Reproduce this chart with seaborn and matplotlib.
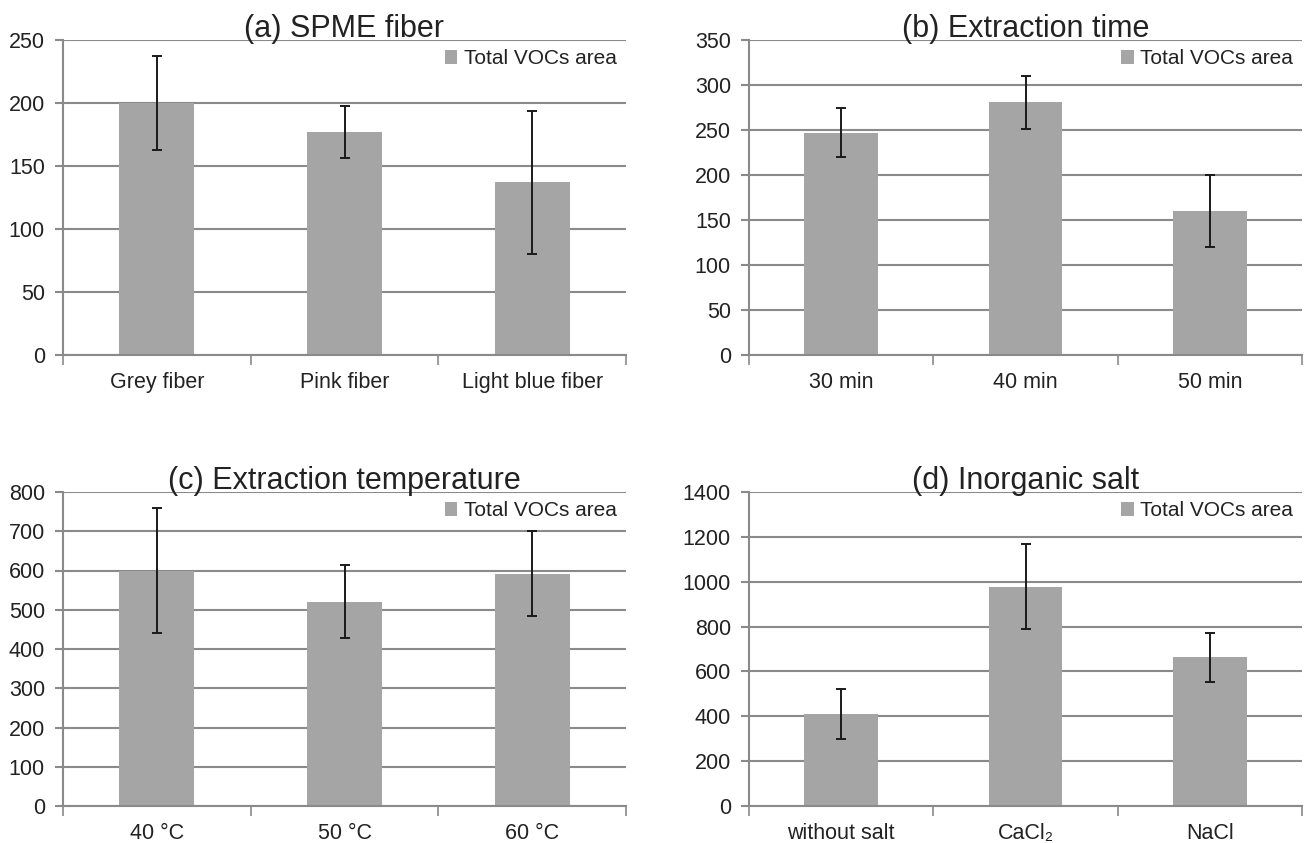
import matplotlib
matplotlib.use("Agg")
import matplotlib.pyplot as plt
import seaborn as sns
import pandas as pd
import numpy as np

# ---- data ----
titles = ["(a) SPME fiber", "(b) Extraction time",
          "(c) Extraction temperature", "(d) Inorganic salt"]
cats_a = ["Grey fiber", "Pink fiber", "Light blue fiber"]
vals_a = [200, 177, 137]
err_a = [37, 21, 57]
cats_b = ["30 min", "40 min", "50 min"]
vals_b = [247, 281, 160]
err_b = [27, 29.5, 40.5]
cats_c = ["40 °C", "50 °C", "60 °C"]
vals_c = [600, 521, 592]
err_c = [160, 94, 108]
cats_d = ["without salt", "CaCl₂", "NaCl"]
vals_d = [410, 977, 663]
err_d = [110, 190, 110]
ymax = [250, 350, 800, 1400]
ystep = [50, 50, 100, 200]
series_name = "Total VOCs area"

sns.set_theme(style="white")
plt.rcParams["font.family"] = ["Liberation Sans", "DejaVu Sans"]

fig = plt.figure(figsize=(13.04, 8.43), dpi=100)
W, H = 1304, 843
boxes = [(63, 626, 40, 355), (749, 1302, 40, 355),
         (63, 626, 492, 806), (749, 1302, 492, 806)]

grid_c = "#8a8a8a"
bar_c = "#a5a5a5"
txt_c = "#222222"

panels = [(cats_a, vals_a, err_a), (cats_b, vals_b, err_b),
          (cats_c, vals_c, err_c), (cats_d, vals_d, err_d)]

for i, ((cats, vals, errs), (x0, x1, y0, y1)) in enumerate(zip(panels, boxes)):
    ax = fig.add_axes([x0 / W, 1 - y1 / H, (x1 - x0) / W, (y1 - y0) / H])
    df = pd.DataFrame({"cat": cats, "val": vals, "series": series_name})
    sns.barplot(data=df, x="cat", y="val", hue="series", palette=[bar_c],
                width=0.4, errorbar=None, ax=ax, saturation=1, zorder=3,
                linewidth=0)
    ax.errorbar(np.arange(len(cats)), vals, yerr=errs, fmt="none",
                ecolor="#1a1a1a", elinewidth=1.4, capsize=3.6,
                capthick=1.4, zorder=4)
    ax.set_xlim(-0.5, len(cats) - 0.5)
    ax.set_ylim(0, ymax[i])
    ax.set_yticks(np.arange(0, ymax[i] + 1, ystep[i]))
    ax.set_xlabel("")
    ax.set_ylabel("")
    ax.yaxis.grid(True, color=grid_c, linewidth=1.5, zorder=0)
    ax.set_axisbelow(True)
    for s in ["top", "right"]:
        ax.spines[s].set_visible(False)
    for s in ["left", "bottom"]:
        ax.spines[s].set_color(grid_c)
        ax.spines[s].set_linewidth(1.5)
        ax.spines[s].set_zorder(5)
    ax.tick_params(axis="y", which="major", left=True, length=6,
                   width=1.5, color=grid_c, labelsize=15.5,
                   labelcolor=txt_c, pad=7)
    ax.tick_params(axis="x", which="major", bottom=False, length=0,
                   labelsize=15.5, labelcolor=txt_c, pad=12)
    ax.set_xticks(np.arange(-0.5, len(cats), 1.0), minor=True)
    ax.tick_params(axis="x", which="minor", bottom=True, length=7,
                   width=1.2, color=grid_c)
    ax.set_title(titles[i], fontsize=22, color=txt_c, pad=2)
    leg = ax.legend(loc="upper right", frameon=False, fontsize=15,
                    handlelength=0.6, handleheight=0.6, handletextpad=0.3,
                    borderaxespad=0.25, borderpad=0.2, labelcolor=txt_c)

fig.savefig("out.png", dpi=100, facecolor="white")
